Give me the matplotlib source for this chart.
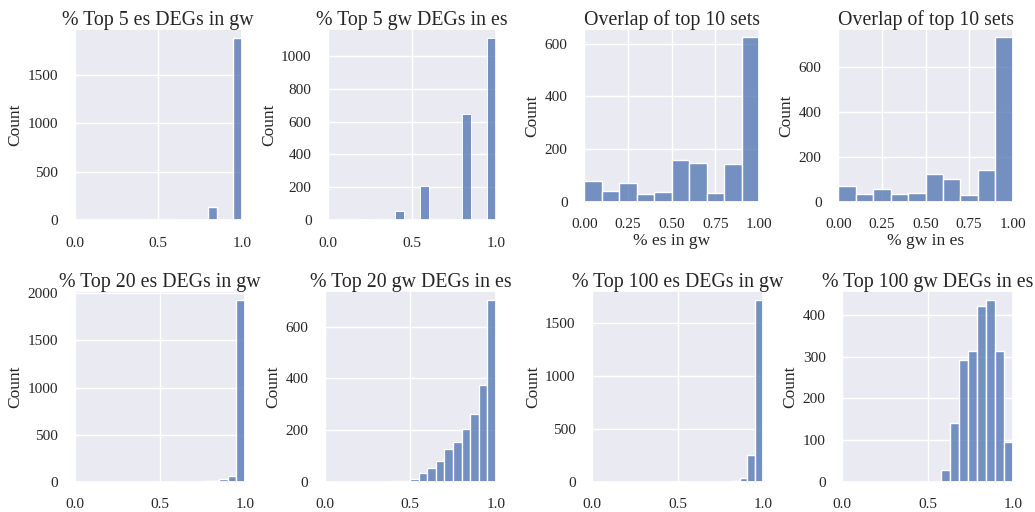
import numpy as np
import pandas as pd
import matplotlib
matplotlib.use("Agg")
import matplotlib.pyplot as plt
import seaborn as sns

sns.set_theme(style="darkgrid")
plt.rcParams['font.family'] = ['Liberation Serif', 'DejaVu Serif']

titles = ["% Top 5 es DEGs in gw", "% Top 5 gw DEGs in es",
          "Overlap of top 10 sets", "Overlap of top 10 sets",
          "% Top 20 es DEGs in gw", "% Top 20 gw DEGs in es",
          "% Top 100 es DEGs in gw", "% Top 100 gw DEGs in es"]
xlabels = ["", "", "% es in gw", "% gw in es", "", "", "", ""]

# bin range (lo, hi) and counts per bin
bin_lo = [0.6, 0.2, 0.0, 0.0, 0.7, 0.4, 0.82, 0.58]
bin_hi = [1.0, 1.0, 1.0, 1.0, 1.0, 1.0, 1.0, 1.0]
counts = [
    [3, 0, 0, 0, 141, 0, 0, 1876],
    [5, 0, 0, 0, 56, 0, 0, 208, 0, 0, 0, 0, 647, 0, 0, 1107],
    [80, 42, 72, 28, 38, 160, 146, 32, 142, 625],
    [70, 36, 57, 33, 37, 125, 100, 30, 141, 732],
    [2, 3, 4, 25, 60, 1929],
    [1, 2, 10, 34, 53, 79, 125, 152, 203, 263, 373, 703],
    [5, 38, 253, 1721],
    [28, 140, 292, 313, 421, 436, 313, 95],
]

W, H = 1035, 512
fig = plt.figure(figsize=(W / 100, H / 100), dpi=100)

# axes boxes in pixels: left, right, top, bottom
boxes = [
    (74.7, 241.7, 29, 220.3), (328.3, 495.7, 29, 220.3),
    (584.3, 759.0, 29, 201.7), (838.3, 1012.7, 29, 201.7),
    (74.7, 244.7, 291, 481.7), (325.0, 495.7, 291, 481.7),
    (592.3, 762.7, 291, 481.7), (842.3, 1013.3, 291, 481.7),
]

for i in range(8):
    l, r, t, b = boxes[i]
    ax = fig.add_axes([l / W, 1 - b / H, (r - l) / W, (b - t) / H])
    c = np.array(counts[i], dtype=float)
    edges = np.linspace(bin_lo[i], bin_hi[i], len(c) + 1)
    df = pd.DataFrame({"x": (edges[:-1] + edges[1:]) / 2, "w": c})
    sns.histplot(data=df, x="x", weights="w", bins=edges.tolist(), ax=ax)
    ax.set_xlim(0, 1)
    ax.set_title(titles[i], fontsize=14.3, pad=3)
    ax.set_ylabel("Count", fontsize=12.5, labelpad=3)
    ax.set_xlabel(xlabels[i], fontsize=12.5, labelpad=1)
    if xlabels[i]:
        ax.set_xticks([0, 0.25, 0.5, 0.75, 1.0])
        ax.set_xticklabels(["0.00", "0.25", "0.50", "0.75", "1.00"])
    else:
        ax.set_xticks([0, 0.5, 1.0])
        ax.set_xticklabels(["0.0", "0.5", "1.0"])
    ax.tick_params(labelsize=11, pad=6)

fig.savefig("out.png", dpi=100)
